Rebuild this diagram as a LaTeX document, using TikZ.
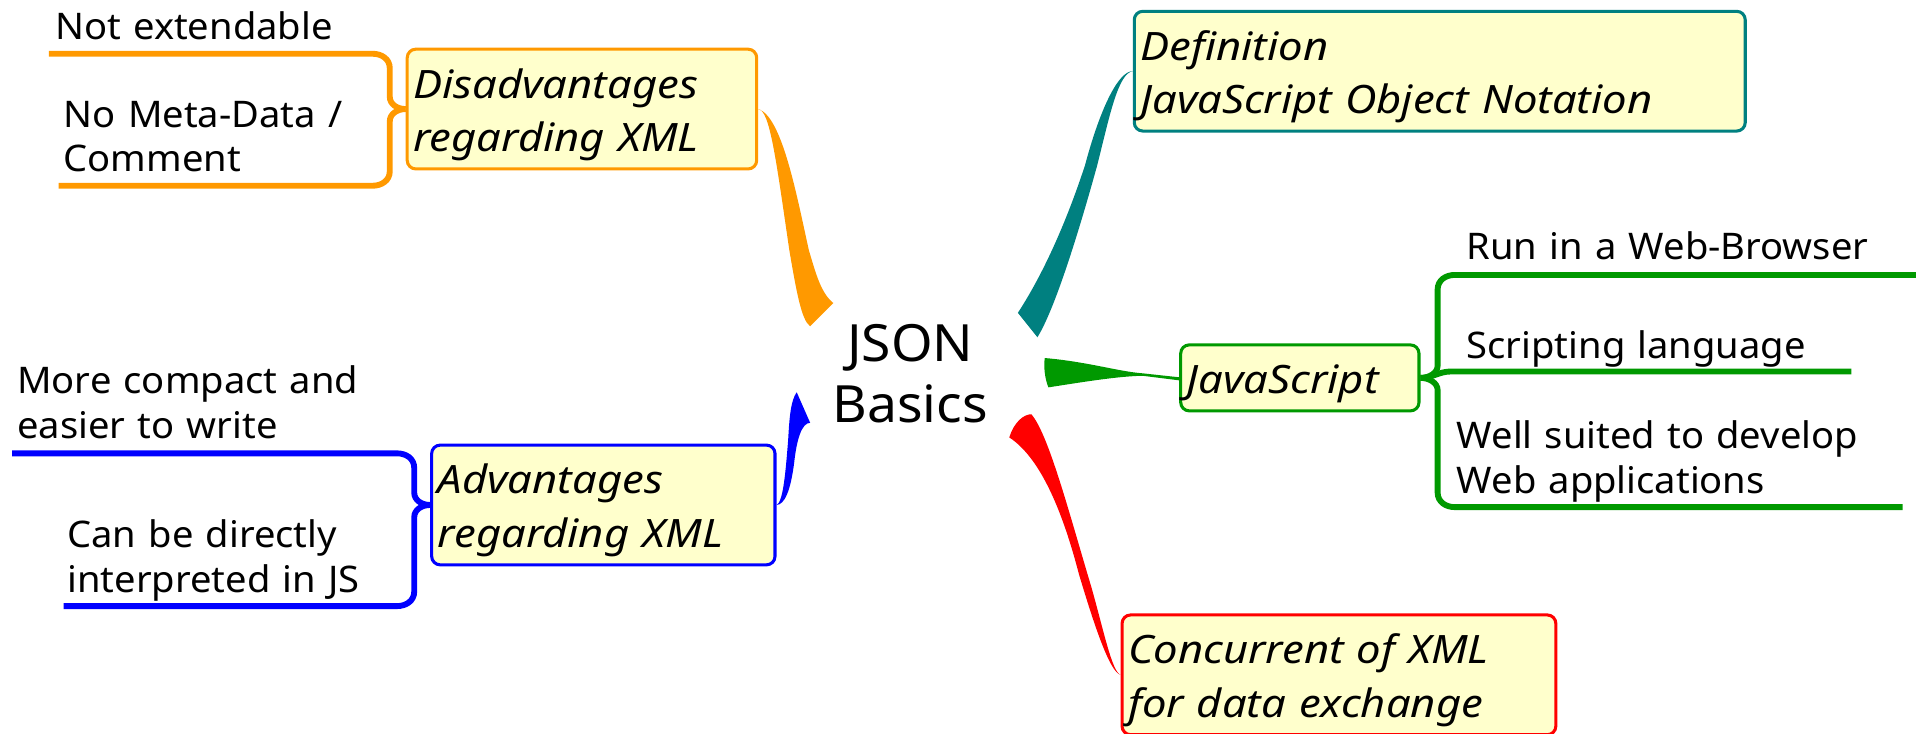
\documentclass[tikz,border=0pt]{standalone}
\usepackage{fontspec}
\setmainfont{Noto Sans}[UprightFeatures={FakeStretch=1.04}, ItalicFeatures={FakeStretch=1.115}]
\usetikzlibrary{calc}
\definecolor{cOrange}{HTML}{FF9900}
\definecolor{cBlue}{HTML}{0000FF}
\definecolor{cTeal}{HTML}{008080}
\definecolor{cGreen}{HTML}{009900}
\definecolor{cRed}{HTML}{FF0000}
\definecolor{cFill}{HTML}{FFFFCC}
\newcommand{\tstrut}{\rule{0pt}{40pt}}
\newcommand{\bstrut}{\rule[-14pt]{0pt}{14pt}}
\begin{document}
\begin{tikzpicture}[x=1pt,y=1pt,
 topic/.style={draw, fill=cFill, line width=2.5pt, rounded corners=7pt, anchor=north west, inner xsep=5pt, inner ysep=0pt, align=left, font=\fontsize{32}{44}\selectfont\itshape},
 leaf/.style={anchor=base west, inner sep=0pt, align=left, text width=400pt, font=\fontsize{30}{36.6}\selectfont},
 branch/.style={line width=4.8pt},
]
\useasboundingbox (0,0) rectangle (1568,-600);

% leaf end coordinates
\coordinate (o1) at (40,-44);
\coordinate (o2) at (48,-152);
\coordinate (b1) at (10,-371);
\coordinate (b2) at (52,-496);
\coordinate (g1) at (1570,-225);
\coordinate (g2) at (1515,-304);
\coordinate (g3) at (1557,-415);

% topic nodes
\node[topic, draw=cOrange, text width=276pt] (dis) at (332,-39) {\tstrut Disadvantages\\regarding XML\bstrut};
\node[topic, draw=cBlue, text width=271pt] (adv) at (352,-363) {\tstrut Advantages\\regarding XML\bstrut};
\node[topic, draw=cTeal, text width=490pt] (def) at (927,-8) {\tstrut Definition\\JavaScript Object Notation\bstrut};
\node[topic, draw=cGreen, text width=185pt] (js) at (965,-281) {\tstrut JavaScript\bstrut};
\node[topic, draw=cRed, text width=345pt] (con) at (917,-502) {\tstrut Concurrent of XML\\for data exchange\bstrut};

% root
\node[anchor=base, inner sep=0pt, text width=240pt, align=center, font=\fontsize{42}{50}\selectfont] (root) at (745,-295.5) {JSON\\Basics};

% leaf texts
\node[leaf] (l1) at (45,-32) {Not extendable};
\node[leaf] (l2) at (52,-104) {No Meta-Data /\\Comment};
\node[leaf] (l3) at (14,-322) {More compact and\\easier to write};
\node[leaf] (l4) at (55,-448) {Can be directly\\interpreted in JS};
\node[leaf] (l5) at (1200,-212) {Run in a Web-Browser};
\node[leaf] (l6) at (1200,-293) {Scripting language};
\node[leaf] (l7) at (1192,-367) {Well suited to develop\\Web applications};

% orange braces
\draw[branch,cOrange] (dis.west) .. controls +(-7,0) and +(0,-6) .. ($(dis.west)+(-13,10)$) -- ($(dis.west|-o1)+(-13,-12)$) .. controls +(0,8) and +(7,0) .. ($(dis.west|-o1)+(-27,0)$) -- (o1);
\draw[branch,cOrange] (dis.west) .. controls +(-7,0) and +(0,6) .. ($(dis.west)+(-13,-10)$) -- ($(dis.west|-o2)+(-13,12)$) .. controls +(0,-8) and +(7,0) .. ($(dis.west|-o2)+(-27,0)$) -- (o2);
% blue braces
\draw[branch,cBlue] (adv.west) .. controls +(-7,0) and +(0,-6) .. ($(adv.west)+(-13,10)$) -- ($(adv.west|-b1)+(-13,-12)$) .. controls +(0,8) and +(7,0) .. ($(adv.west|-b1)+(-27,0)$) -- (b1);
\draw[branch,cBlue] (adv.west) .. controls +(-7,0) and +(0,6) .. ($(adv.west)+(-13,-10)$) -- ($(adv.west|-b2)+(-13,12)$) .. controls +(0,-8) and +(7,0) .. ($(adv.west|-b2)+(-27,0)$) -- (b2);
% green braces
\draw[branch,cGreen] (js.east) .. controls +(7,0) and +(0,-6) .. ($(js.east)+(14,10)$) -- ($(js.east|-g1)+(14,-12)$) .. controls +(0,8) and +(-7,0) .. ($(js.east|-g1)+(28,0)$) -- (g1);
\draw[branch,cGreen] (js.east) .. controls +(10,0) and +(-10,0) .. ($(js.east|-g2)+(25,0)$) -- (g2);
\draw[branch,cGreen] (js.east) .. controls +(7,0) and +(0,6) .. ($(js.east)+(14,-10)$) -- ($(js.east|-g3)+(14,12)$) .. controls +(0,-8) and +(-7,0) .. ($(js.east|-g3)+(28,0)$) -- (g3);

% tapered connectors to root
\coordinate (oA) at (663,-267);
\coordinate (oB) at (682,-248);
\fill[cOrange] (dis.east) .. controls (630,-90) and (635,-130) .. (646,-205) .. controls (652,-240) and (656,-262) .. (oA) -- (oB) .. controls (672,-240) and (668,-225) .. (662,-205) .. controls (652,-160) and (640,-95) .. (dis.east) -- cycle;

\coordinate (bA) at (652,-321);
\coordinate (bB) at (663,-346);
\fill[cBlue] (adv.east) .. controls (641,-411) and (643,-385) .. (645,-360) .. controls (646,-342) and (647,-328) .. (bA) -- (bB) .. controls (656,-346) and (652,-360) .. (650,-378) .. controls (647,-402) and (642,-413) .. (adv.east) -- cycle;

\coordinate (tA) at (833,-256);
\coordinate (tB) at (849,-276);
\fill[cTeal] (def.west) .. controls (915,-58) and (900,-90) .. (888,-135) .. controls (870,-190) and (850,-230) .. (tA) -- (tB) .. controls (862,-255) and (880,-200) .. (898,-135) .. controls (908,-95) and (915,-60) .. (def.west) -- cycle;

\coordinate (gA) at (855,-293);
\coordinate (gB) at (858,-317);
\fill[cGreen] (gA) .. controls (890,-296) and (915,-304) .. (935,-305.5) -- ($(js.west)+(0,0.5)$) -- ($(js.west)+(0,-2)$) -- (935,-307.5) .. controls (915,-308) and (890,-312) .. (gB) .. controls (855,-310) and (854,-300) .. (gA) -- cycle;

\coordinate (rA) at (826,-358);
\coordinate (rB) at (844,-339);
\fill[cRed] (con.west) .. controls (908,-550) and (895,-510) .. (883,-470) .. controls (870,-420) and (852,-375) .. (rA) .. controls (830,-345) and (838,-339) .. (rB) .. controls (858,-355) and (875,-420) .. (893,-480) .. controls (903,-515) and (910,-550) .. (con.west) -- cycle;
\end{tikzpicture}
\end{document}
